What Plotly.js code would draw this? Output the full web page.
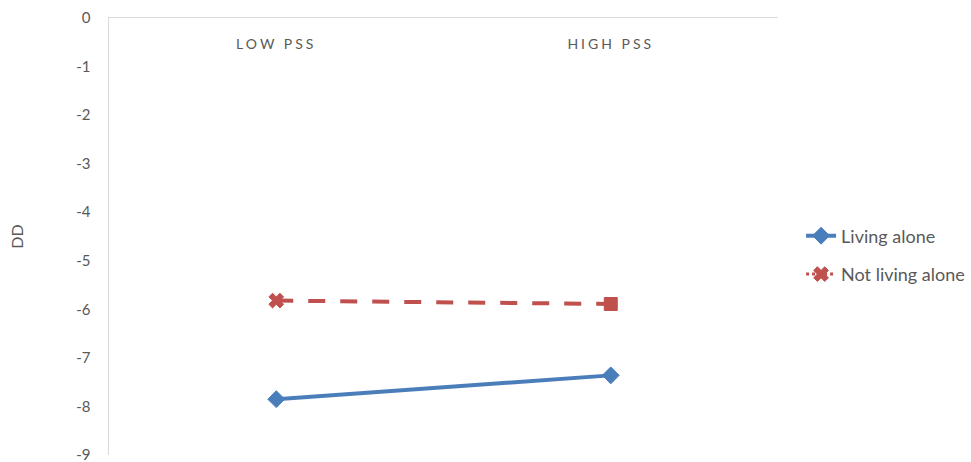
<!DOCTYPE html>
<html>
<head>
<meta charset="utf-8">
<script src="https://cdn.plot.ly/plotly-3.0.1.min.js"></script>
<style>
body{margin:0;padding:0;background:#fff;}
#chart{width:971px;height:462px;}
.xtick text{letter-spacing:3px;}
</style>
</head>
<body>
<div id="chart"></div>
<script>
var categories = ['LOW PSS', 'HIGH PSS'];
var livingAlone = [-7.85, -7.36];
var notLivingAlone = [-5.82, -5.89];
var yTicks = [0, -1, -2, -3, -4, -5, -6, -7, -8, -9];
var seriesNames = ['Living alone', 'Not living alone'];

var blue = '#4A7EBB';
var red = '#C0504D';
var grey = '#595959';

var traces = [
  {
    x: categories, y: livingAlone, name: seriesNames[0], type: 'scatter', mode: 'lines+markers',
    line: {color: blue, width: 4},
    marker: {symbol: 'diamond', size: 13, color: blue, opacity: 1, line: {color: blue, width: 1}},
    legendgroup: 'a'
  },
  {
    x: categories, y: notLivingAlone, name: seriesNames[1], type: 'scatter', mode: 'lines+markers',
    line: {color: red, width: 4, dash: '17px,15px'},
    marker: {symbol: ['x', 'square'], size: [13, 13], color: [red, red], opacity: 1, line: {color: red, width: 1}},
    showlegend: false, legendgroup: 'b'
  },
  {
    x: [null], y: [null], name: seriesNames[1], type: 'scatter', mode: 'lines+markers',
    line: {color: red, width: 3, dash: 'dot'},
    marker: {symbol: 'x', size: 13, color: red, line: {color: red, width: 1}},
    legendgroup: 'b'
  }
];

var layout = {
  width: 971, height: 462,
  margin: {l: 109, r: 193, t: 18, b: 7, pad: 0},
  paper_bgcolor: '#fff', plot_bgcolor: '#fff',
  font: {family: 'Lato, "Open Sans", sans-serif', color: grey},
  showlegend: true,
  legend: {
    xref: 'container', yref: 'container',
    x: 0.825, xanchor: 'left', y: 1 - 255 / 462, yanchor: 'middle',
    font: {size: 18, color: grey, family: 'Lato, sans-serif'},
    tracegroupgap: 12, bgcolor: 'rgba(0,0,0,0)'
  },
  xaxis: {
    type: 'category', side: 'top', range: [-0.5, 1.5],
    showline: true, linecolor: '#D9D9D9', linewidth: 1.5,
    showgrid: false, zeroline: false, ticks: '',
    ticklabelposition: 'outside', ticklabelstandoff: -38,
    tickfont: {size: 14, color: grey, family: 'Lato, sans-serif'},
    fixedrange: true
  },
  yaxis: {
    range: [-9, 0], tickvals: yTicks, ticktext: yTicks.map(String),
    showline: true, linecolor: '#D9D9D9', linewidth: 1.5,
    showgrid: false, zeroline: false, ticks: '',
    ticklabelstandoff: 14, ticklabeloverflow: 'allow',
    tickfont: {size: 15, color: grey, family: 'Lato, sans-serif'},
    title: {text: 'DD', font: {size: 16, color: grey, family: 'Lato, sans-serif'}, standoff: 48},
    fixedrange: true
  }
};

Plotly.newPlot('chart', traces, layout, {displayModeBar: false, staticPlot: true});
</script>
</body>
</html>
